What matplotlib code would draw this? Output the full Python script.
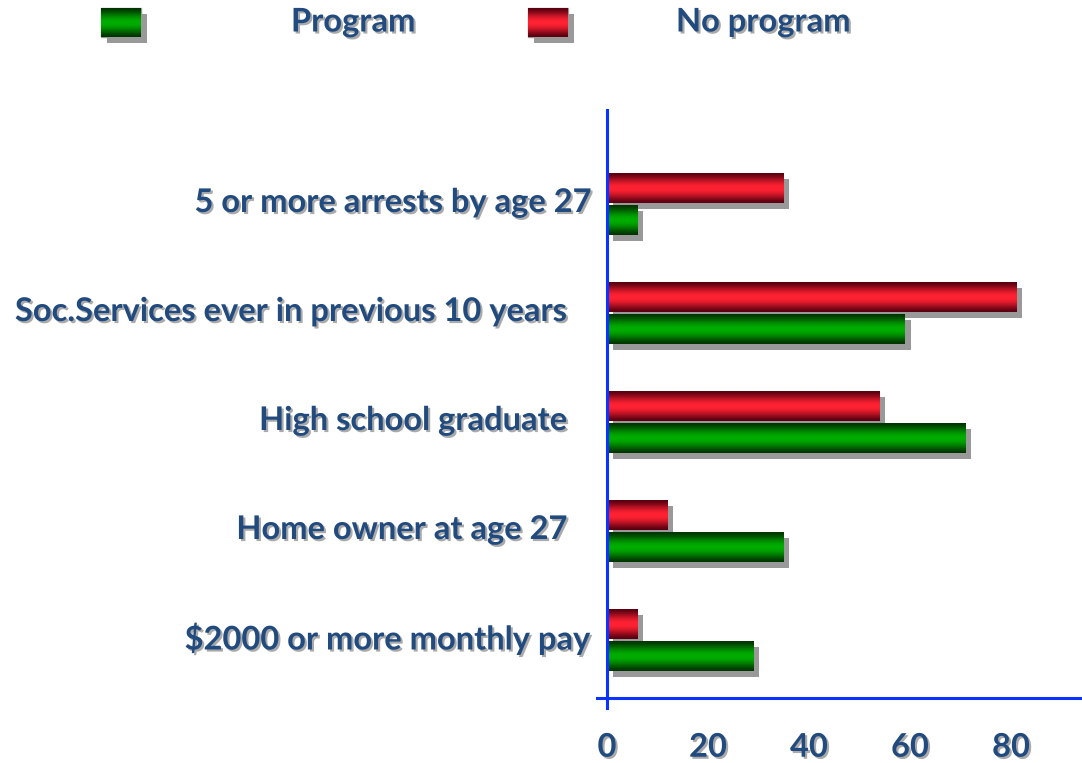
import matplotlib
matplotlib.use('Agg')
import matplotlib.pyplot as plt
import matplotlib.patheffects as pe
import matplotlib.transforms as mtrans
import numpy as np

categorias = ['5 or more arrests by age 27',
              'Soc.Services ever in previous 10 years   ',
              'High school graduate   ',
              'Home owner at age 27   ',
              '$2000 or more monthly pay']
con_programa = [6, 59, 71, 35, 29]
sin_programa = [35, 81, 54, 12, 6]
ticks_x = [0, 20, 40, 60, 80]
series = ['Program', 'No program']

AZUL_TEXTO = '#214A7E'
AZUL_EJE = '#0A33FF'
plt.rcParams['font.family'] = ['Lato', 'DejaVu Sans']
TAM = 23.5


def gradiente(base_osc, base_clara, n=64):
    t = np.linspace(0, 1, n)
    # claro en el centro, oscuro en los bordes
    w = np.sin(np.pi * t) ** 1.5
    osc = np.array(matplotlib.colors.to_rgb(base_osc))
    cla = np.array(matplotlib.colors.to_rgb(base_clara))
    col = osc[None, :] * (1 - w[:, None]) + cla[None, :] * w[:, None]
    return col[:, None, :]


GRAD_VERDE = gradiente('#003400', '#00ad00')
GRAD_ROJO = gradiente('#5a0010', '#ff2233')

sombra_txt = [pe.SimplePatchShadow(offset=(1.5, -1.5), shadow_rgbFace='#444444', alpha=0.45), pe.Normal()]
sombra_bar = [pe.SimplePatchShadow(offset=(4, -4), shadow_rgbFace='#999999', alpha=1.0), pe.Normal()]

W, H = 1082, 763
fig = plt.figure(figsize=(W / 100, H / 100), dpi=100)

# ejes principales en coordenadas de pixel
x_izq, x_der, y_sup, y_inf = 597, 1082, 110, 698
ax = fig.add_axes([x_izq / W, 1 - y_inf / H, (x_der - x_izq) / W, (y_inf - y_sup) / H])

esc = 5.05  # px por unidad
x0 = 607
xlim = ((x_izq - x0) / esc, (x_der - x0) / esc)
paso = 109.0
c0 = 204
ylim = ((y_inf - c0) / paso, (y_sup - c0) / paso)

y = np.arange(len(categorias))
alto = 0.275
off = 0.147


def barras_grad(valores, pos, grad):
    bars = ax.barh(pos, valores, height=alto, color='#999999', zorder=2)
    for b in bars:
        b.set_path_effects(sombra_bar)
        bx, by, bw, bh = b.get_x(), b.get_y(), b.get_width(), b.get_height()
        ax.imshow(grad, extent=[bx, bx + bw, by + bh, by], aspect='auto',
                  interpolation='bilinear', zorder=3)


barras_grad(sin_programa, y - off, GRAD_ROJO)
barras_grad(con_programa, y + off, GRAD_VERDE)

ax.set_xlim(*xlim)
ax.set_ylim(*ylim)

for s in ['top', 'right', 'left']:
    ax.spines[s].set_visible(False)
ax.spines['bottom'].set_color(AZUL_EJE)
ax.spines['bottom'].set_linewidth(2.2)
ax.axvline(0, ymin=-10 / (y_inf - y_sup), ymax=1, color=AZUL_EJE, lw=2.2,
           clip_on=False, zorder=4)

ax.set_xticks(ticks_x)
ax.set_xticklabels([str(t) for t in ticks_x])
ax.tick_params(axis='x', length=0, pad=25)
for lab in ax.get_xticklabels():
    lab.set_fontsize(TAM)
    lab.set_fontweight('bold')
    lab.set_color(AZUL_TEXTO)
    lab.set_path_effects(sombra_txt)

ax.set_yticks(y)
ax.set_yticklabels(categorias)
ax.tick_params(axis='y', length=0, pad=5)
subir = mtrans.ScaledTranslation(0, 4 / 100, fig.dpi_scale_trans)
for lab in ax.get_yticklabels():
    lab.set_fontsize(TAM)
    lab.set_fontweight('bold')
    lab.set_color(AZUL_TEXTO)
    lab.set_path_effects(sombra_txt)
    lab.set_transform(lab.get_transform() + subir)

# leyenda arriba
axl = fig.add_axes([0, 0, 1, 1], zorder=-1)
axl.set_xlim(0, W)
axl.set_ylim(H, 0)
axl.axis('off')
for (cx, tx), grad, nombre in zip([(101, 353), (528, 763)], [GRAD_VERDE, GRAD_ROJO], series):
    r = plt.Rectangle((cx, 8), 40, 29, color='#999999', zorder=1)
    r.set_path_effects(sombra_bar)
    axl.add_patch(r)
    axl.imshow(grad, extent=[cx, cx + 40, 37, 8], aspect='auto', interpolation='bilinear',
               zorder=3)
    axl.text(tx, 22, nombre, ha='center', va='center', fontsize=TAM, fontweight='bold',
             color=AZUL_TEXTO, path_effects=sombra_txt)
axl.set_xlim(0, W)
axl.set_ylim(H, 0)

fig.savefig('out.png', dpi=100)
